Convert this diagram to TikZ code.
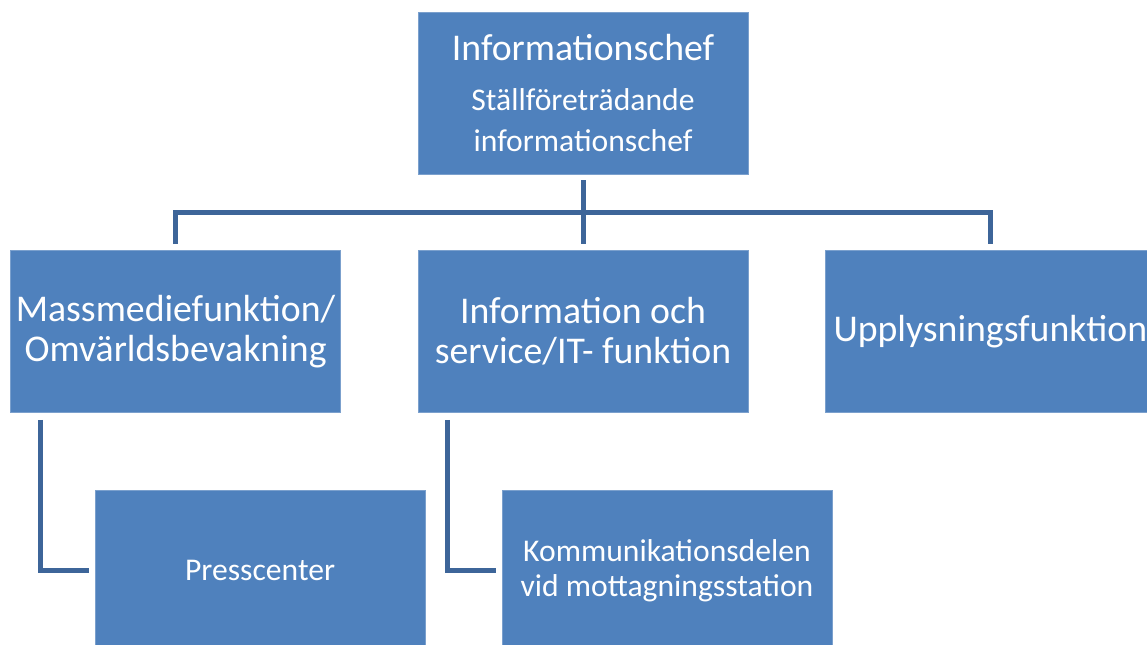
\documentclass[tikz,border=0pt]{standalone}
\usepackage{fontspec}
\setmainfont{Carlito}
\usetikzlibrary{calc, positioning}

\newcommand\subfont{\fontsize{18}{20}\selectfont}

\begin{document}
\begin{tikzpicture}
  [x=0.02cm, y=-0.02cm,
    node distance=4.77cm and 8.15cm]

    \definecolor{boxblue}{HTML}{4F81BD}
    \definecolor{linkblue}{HTML}{3D6599}

  \tikzset{
    base/.style={
      on grid,
      align=center,
      minimum width=6.6cm,
      minimum height=3.24cm,
      inner sep=0pt,
    },
    unit/.style={base,
      rectangle,
      fill=boxblue, draw=boxblue!75!white, thin,
      text=white,
      font=\fontsize{21.5}{23}\selectfont,
    },
    subunit/.style={unit,
      font=\subfont,
    },
    link/.style={draw=linkblue, line width=0.1cm},
  }

  \useasboundingbox (0,0) rectangle (1147,645);

  \node[unit] (chef) at (583,93) {Informationschef\\[0.2cm]
    \subfont Ställföreträdande\\\subfont informationschef};

  \node[unit, below=of chef] (info) {Information och\\service/IT- funktion};
  \node[unit, left=of info] (massmedia) {Massmediefunktion/\\Omvärldsbevakning};
  \node[unit, right=of info] (upplys) {Upplysningsfunktion};

  \node[subunit, below right=4.79cm and 1.69cm of massmedia] (press) {Presscenter};
  \node[subunit, below right=4.79cm and 1.68cm of info] (kommunikation)
    {Kommunikationsdelen\\vid mottagningsstation};

  % bus between the chief and the three functions
  \coordinate (bus) at ($(chef.south)!0.5!(info.north)$);
  \draw[link] ([yshift=-0.12cm]chef.south) -- ([yshift=0.12cm]info.north);
  \draw[link] ([yshift=0.12cm]massmedia.north) |- (bus) -| ([yshift=0.12cm]upplys.north);

  \draw[link] ([xshift=0.6cm, yshift=-0.14cm]massmedia.south west) |- ([xshift=-0.12cm]press.west);
  \draw[link] ([xshift=0.6cm, yshift=-0.14cm]info.south west) |- ([xshift=-0.12cm]kommunikation.west);
\end{tikzpicture}
\end{document}
